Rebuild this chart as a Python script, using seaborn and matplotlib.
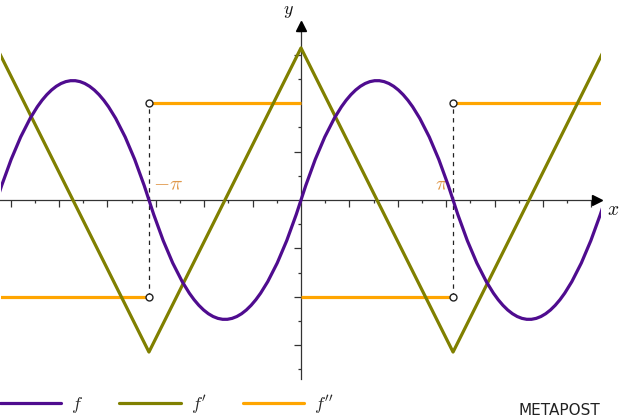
import numpy as np
import pandas as pd
import matplotlib
matplotlib.use("Agg")
import matplotlib.pyplot as plt
import seaborn as sns
from matplotlib.path import Path
from matplotlib.patches import PathPatch, Rectangle
from matplotlib.lines import Line2D

# knots of the periodic function (one knot every pi)
x_knots = [-2 * np.pi, -np.pi, 0.0, np.pi, 2 * np.pi]
f_vals = [0.0, 0.0, 0.0, 0.0, 0.0]                    # f at the knots
fp_vals = [np.pi, -np.pi, np.pi, -np.pi, np.pi]       # f' at the knots
fpp_vals = [-2.0, 2.0, -2.0, 2.0]                     # f'' on each interval
jump_x = [-np.pi, np.pi]                              # marked jumps of f''
jump_labels = [r"$-\pi$", r"$\pi$"]
legend_labels = [r"$f$", r"$f'$", r"$f''$"]

C_F = "#4f0c8f"
C_FP = "#808000"
C_FPP = "#ffa500"
C_LBL = "#e0984a"
C_AX = "#333333"

sns.set_theme(style="white")
plt.rcParams["mathtext.fontset"] = "cm"

fig = plt.figure(figsize=(6.19, 4.19), dpi=100)
ax = fig.add_axes([0, 0, 1, 1])
scale = 48.4  # pixels per unit
ax.set_xlim(-301 / scale, 318 / scale)
ax.set_ylim(-219 / scale, 200 / scale)

clip = Rectangle((-6.2, -5), 12.4, 10, transform=ax.transData)

# f'' : step function
ax.hlines(fpp_vals, x_knots[:-1], x_knots[1:], colors=C_FPP, lw=2.3, zorder=3)

# f' : triangle wave through the knots
df_fp = pd.DataFrame({"x": x_knots, "y": fp_vals})
sns.lineplot(data=df_fp, x="x", y="y", color=C_FP, lw=2.3, sort=False, ax=ax, zorder=4)

# f : parabolic arcs as quadratic beziers built from the knots
verts, codes = [(x_knots[0], f_vals[0])], [Path.MOVETO]
for i in range(len(x_knots) - 1):
    x0, x1 = x_knots[i], x_knots[i + 1]
    cx = (x0 + x1) / 2
    cy = f_vals[i] + fp_vals[i] * (x1 - x0) / 2
    verts += [(cx, cy), (x1, f_vals[i + 1])]
    codes += [Path.CURVE3, Path.CURVE3]
ax.add_patch(PathPatch(Path(verts, codes), fill=False, ec=C_F, lw=2.3, zorder=5))

for art in ax.lines + ax.collections + ax.patches:
    art.set_clip_path(clip)

# jumps of f''
lo, hi = min(fpp_vals), max(fpp_vals)
for xj, lab in zip(jump_x, jump_labels):
    ax.plot([xj, xj], [lo, hi], color="#222222", lw=0.9, ls=(0, (3.5, 3.5)), zorder=2)
    ax.plot([xj, xj], [lo, hi], ls="none", marker="o", ms=5, mfc="white",
            mec="#222222", mew=1.0, zorder=6)
    if xj < 0:
        ax.text(xj + 0.08, 0.12, lab, color=C_LBL, fontsize=15, ha="left", va="bottom")
    else:
        ax.text(xj - 0.08, 0.12, lab, color=C_LBL, fontsize=15, ha="right", va="bottom")

# axes through the origin
for s in ["top", "right"]:
    ax.spines[s].set_visible(False)
ax.spines["left"].set_position(("data", 0))
ax.spines["bottom"].set_position(("data", 0))
ax.spines["left"].set_bounds(-3.7, 3.6)
ax.spines["bottom"].set_bounds(-6.3, 6.1)
for s in ["left", "bottom"]:
    ax.spines[s].set_color(C_AX)
    ax.spines[s].set_linewidth(0.9)
    ax.spines[s].set_zorder(1)

xt = [v for v in np.arange(-6, 6.5, 1) if v != 0]
xm = [v for v in np.arange(-5.5, 6.0, 1)]
yt = [v for v in np.arange(-3, 3.5, 1) if v != 0]
ym = [v for v in np.arange(-3.5, 4.0, 1)]
ax.set_xticks(xt)
ax.set_xticks(xm, minor=True)
ax.set_yticks(yt)
ax.set_yticks(ym, minor=True)
ax.set_xticklabels([])
ax.set_yticklabels([])
ax.tick_params(which="major", direction="out", length=5, width=0.9, color=C_AX,
               bottom=True, left=True)
ax.tick_params(which="minor", direction="out", length=2.5, width=0.9, color=C_AX,
               bottom=True, left=True)
ax.set_xlabel("")
ax.set_ylabel("")

ax.plot(6.12, 0, marker=">", ms=7, color="black", clip_on=False, zorder=7)
ax.plot(0, 3.6, marker="^", ms=7, color="black", clip_on=False, zorder=7)
ax.text(6.45, -0.2, "$x$", fontsize=14, ha="center", va="center", color="#111111")
ax.text(-0.25, 3.9, "$y$", fontsize=13, ha="center", va="center", color="#111111")

# legend
handles = [Line2D([], [], color=c, lw=2.3) for c in (C_F, C_FP, C_FPP)]
leg = fig.legend(handles, legend_labels, loc="lower left", bbox_to_anchor=(0.0, 0.008),
                 ncol=3, frameon=False, fontsize=13, handlelength=3.4,
                 handletextpad=0.55, columnspacing=2.0, borderpad=0.0, borderaxespad=0.0)

fig.text(600 / 619, 9 / 419, "METAPOST", ha="right", va="center", fontsize=11,
         color="#222222", family="DejaVu Sans")

fig.savefig("out.png", dpi=100)
